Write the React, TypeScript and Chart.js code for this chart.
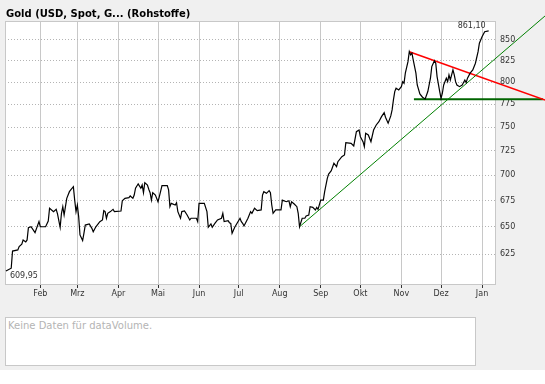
import React, { useEffect, useRef } from 'react';
import { Chart, registerables } from 'chart.js';

Chart.register(...registerables);

const TITLE = 'Gold (USD, Spot, G... (Rohstoffe)';
const NO_DATA_TEXT = 'Keine Daten für dataVolume.';

// x values: day number counted from 1 Jan 2007
const priceDays = [
  5, 9, 10, 14, 15, 17, 18, 20, 21, 22, 24, 27, 30, 31, 35, 37, 38, 41, 43, 44, 46, 47, 48, 49, 50, 51, 53, 54, 56, 57,
  58, 59, 60, 61, 63, 64, 65, 68, 70, 71, 73, 76, 78, 79, 80, 81, 82, 84, 86, 87, 92, 93, 95, 98, 99, 101, 102, 103, 104, 105,
  107, 108, 109, 110, 112, 113, 114, 115, 116, 118, 120, 121, 123, 127, 128, 129, 130, 133, 134, 135, 137, 138, 140, 142, 144, 145, 149, 150, 151, 155,
  157, 158, 160, 161, 163, 165, 168, 169, 170, 173, 174, 175, 176, 178, 180, 182, 183, 184, 185, 188, 190, 191, 193, 195, 198, 199, 200, 202, 204, 205,
  206, 207, 209, 213, 214, 217, 219, 220, 221, 223, 225, 226, 227, 229, 231, 232, 234, 235, 237, 239, 240, 241, 243, 245, 246, 248, 249, 251, 253, 255,
  256, 259, 261, 262, 266, 268, 270, 272, 273, 275, 276, 277, 279, 281, 283, 285, 287, 289, 291, 292, 294, 296, 297, 298, 299, 300, 302, 304, 305, 306,
  307, 309, 310, 311, 312, 313, 315, 316, 318, 320, 322, 324, 326, 327, 329, 330, 331, 333, 334, 335, 336, 338, 339, 340, 341, 343, 344, 345, 346, 348,
  350, 352, 353, 354, 356, 358, 360, 362, 363, 365, 367, 370,
];
const priceValues = [
  609.95, 612.4, 627.7, 628.7, 631.7, 633.9, 637.8, 636.0, 637.8, 649.1, 650.0, 644.5, 654.8, 650.0, 650.0, 655.4, 667.5, 664.3, 666.5, 662.1, 649.5, 662.7, 669.0, 661.1, 669.0, 677.1, 683.6, 685.3, 688.5, 675.4,
  664.3, 670.6, 659.5, 642.4, 637.2, 644.0, 651.6, 652.6, 648.5, 645.4, 650.0, 654.8, 656.4, 665.2, 664.3, 658.0, 662.7, 664.3, 666.5, 664.3, 664.9, 674.7, 677.1, 677.7, 679.4, 677.1, 680.3, 687.0, 689.2, 691.2,
  687.0, 690.2, 682.6, 692.5, 690.2, 686.0, 682.6, 675.4, 682.6, 680.3, 673.8, 678.7, 689.5, 689.5, 685.3, 669.0, 672.2, 670.6, 672.8, 664.3, 658.0, 664.3, 664.9, 661.1, 656.4, 658.0, 658.0, 654.8, 672.2, 672.2,
  664.3, 649.5, 652.6, 649.5, 653.2, 656.4, 658.0, 662.7, 654.8, 655.7, 653.8, 653.2, 644.0, 649.5, 653.8, 658.0, 654.8, 653.2, 650.7, 658.0, 664.3, 662.7, 667.5, 665.2, 665.9, 680.3, 683.6, 682.0, 684.6, 682.6,
  670.6, 662.7, 665.9, 665.9, 675.4, 673.8, 674.7, 669.0, 673.8, 671.6, 669.0, 662.7, 650.0, 658.0, 658.0, 660.2, 661.1, 669.0, 668.4, 665.9, 668.4, 666.5, 675.4, 675.4, 683.6, 696.8, 701.1, 704.5, 712.1, 708.6,
  713.7, 718.9, 720.6, 733.5, 732.8, 730.0, 745.1, 746.9, 739.8, 734.5, 729.2, 743.4, 741.6, 734.5, 746.9, 752.3, 755.9, 761.4, 765.8, 760.8, 754.2, 762.2, 768.8, 779.9, 789.3, 793.1, 791.2, 794.9, 800.6, 798.8,
  810.4, 823.9, 835.9, 832.0, 834.0, 825.9, 810.4, 796.8, 786.7, 782.9, 781.0, 789.3, 804.6, 818.1, 825.1, 822.1, 806.5, 789.3, 781.5, 787.4, 796.8, 804.6, 800.6, 808.4, 802.5, 814.2, 808.4, 800.6, 796.8, 794.9,
  796.8, 802.5, 799.4, 804.6, 810.4, 814.2, 822.1, 835.9, 846.0, 854.0, 860.1, 861.1,
];

const monthTickDays = [31, 59, 90, 120, 151, 181, 212, 243, 273, 304, 334, 365];
const monthTickLabels = ['Feb', 'Mrz', 'Apr', 'Mai', 'Jun', 'Jul', 'Aug', 'Sep', 'Okt', 'Nov', 'Dez', 'Jan'];
const yTickValues = [625, 650, 675, 700, 725, 750, 775, 800, 825, 850];

// trend lines (two points each)
const supportDays = [227, 412.6];
const supportValues = [650.0, 879.8];
const resistanceDays = [310, 412.6];
const resistanceValues = [835.9, 779.8];
const floorDays = [313.5, 411];
const floorValues = [780.6, 780.6];

const firstLabel = '609,95';
const lastLabel = '861,10';

const FONT = '"DejaVu Sans", Verdana, sans-serif';

const pts = (xs: number[], ys: number[]) => xs.map((x, i) => ({ x, y: ys[i] }));

export default function App() {
  const ref = useRef<HTMLCanvasElement | null>(null);

  useEffect(() => {
    document.body.style.margin = '0';
    const canvas = ref.current;
    if (!canvas) return;

    const framePlugin = {
      id: 'frame',
      beforeDraw(chart: any) {
        const { ctx, chartArea } = chart;
        const { left, top, right, bottom } = chartArea;
        ctx.save();
        ctx.fillStyle = '#ffffff';
        ctx.fillRect(left, top, right - left, bottom - top);
        ctx.fillStyle = '#000000';
        ctx.font = `bold 10px ${FONT}`;
        ctx.textBaseline = 'alphabetic';
        ctx.textAlign = 'left';
        ctx.fillText(TITLE, 6, 17);
        ctx.restore();
      },
      beforeDatasetsDraw(chart: any) {
        const { ctx, chartArea } = chart;
        const { left, top, right, bottom } = chartArea;
        ctx.save();
        ctx.strokeStyle = '#c8c8c8';
        ctx.lineWidth = 1;
        ctx.strokeRect(Math.round(left) + 0.5, Math.round(top) + 0.5, Math.round(right - left), Math.round(bottom - top));
        ctx.restore();
      },
      afterDatasetsDraw(chart: any) {
        const { ctx, scales } = chart;
        const xs = scales.x;
        const ys = scales.y;
        ctx.save();
        ctx.fillStyle = '#333333';
        ctx.font = `8px ${FONT}`;
        const lx = xs.getPixelForValue(priceDays[priceDays.length - 1]);
        const ly = ys.getPixelForValue(priceValues[priceValues.length - 1]);
        ctx.textAlign = 'right';
        ctx.textBaseline = 'bottom';
        ctx.fillText(lastLabel, lx - 3, ly - 1);
        const fx = xs.getPixelForValue(priceDays[0]);
        const fy = ys.getPixelForValue(priceValues[0]);
        ctx.textAlign = 'left';
        ctx.textBaseline = 'top';
        ctx.fillText(firstLabel, fx + 4, fy + 1);
        ctx.restore();
      },
    };

    const chart = new Chart(canvas, {
      type: 'line',
      data: {
        datasets: [
          {
            data: pts(priceDays, priceValues),
            borderColor: '#000000',
            borderWidth: 1.2,
            pointRadius: 0,
            tension: 0,
            order: 1,
          },
          {
            data: pts(supportDays, supportValues),
            borderColor: '#008000',
            borderWidth: 1,
            pointRadius: 0,
            clip: false as any,
            order: 2,
          },
          {
            data: pts(resistanceDays, resistanceValues),
            borderColor: '#ff0000',
            borderWidth: 1.6,
            pointRadius: 0,
            clip: false as any,
            order: 3,
          },
          {
            data: pts(floorDays, floorValues),
            borderColor: '#006400',
            borderWidth: 2,
            pointRadius: 0,
            clip: false as any,
            order: 4,
          },
        ],
      },
      options: {
        animation: false,
        responsive: false,
        maintainAspectRatio: false,
        events: [],
        layout: { padding: { top: 21, left: 5, right: 0, bottom: 0 } },
        plugins: {
          legend: { display: false },
          tooltip: { enabled: false },
          title: { display: false },
        },
        scales: {
          x: {
            type: 'linear',
            min: 4.3,
            max: 374.8,
            afterBuildTicks: (s: any) => {
              s.ticks = monthTickDays.map((v) => ({ value: v }));
            },
            afterFit: (s: any) => {
              s.height = 16;
            },
            ticks: {
              autoSkip: false,
              maxRotation: 0,
              padding: 1,
              color: '#333333',
              font: { family: FONT, size: 8 },
              callback: (v: any) => {
                const i = monthTickDays.indexOf(Number(v));
                return i >= 0 ? monthTickLabels[i] : '';
              },
            },
            grid: {
              color: '#c8c8c8',
              lineWidth: 1,
              drawTicks: true,
              tickLength: 4,
              tickColor: '#333333',
              tickWidth: 1,
            },
            border: { display: true, color: '#c8c8c8' },
          },
          y: {
            type: 'logarithmic',
            position: 'right',
            min: 598.7,
            max: 873.5,
            afterBuildTicks: (s: any) => {
              s.ticks = yTickValues.map((v) => ({ value: v }));
            },
            afterFit: (s: any) => {
              s.width = 50;
            },
            ticks: {
              autoSkip: false,
              padding: 5,
              color: '#333333',
              font: { family: FONT, size: 8 },
              callback: (v: any) => String(v),
            },
            grid: {
              color: '#b4b4b4',
              lineWidth: 1,
              drawTicks: false,
            },
            border: { display: true, color: '#c8c8c8', dash: [1, 2] },
          },
        },
      },
      plugins: [framePlugin],
    } as any);

    return () => chart.destroy();
  }, []);

  return (
    <div style={{ position: 'absolute', left: 0, top: 0, width: 545, height: 384, background: '#ffffff' }}>
      <div style={{ position: 'absolute', left: 0, top: 0, width: 545, height: 370, background: '#f0f0f0' }} />
      <canvas
        ref={ref}
        width={545}
        height={300}
        style={{ position: 'absolute', left: 0, top: 0, width: 545, height: 300 }}
      />
      <div
        style={{
          position: 'absolute',
          left: 5,
          top: 317,
          width: 471,
          height: 49,
          boxSizing: 'border-box',
          border: '1px solid #c8c8c8',
          background: '#ffffff',
          color: '#b4b4b4',
          fontFamily: FONT,
          fontSize: 10,
          lineHeight: '12px',
          padding: '2px 2px',
          whiteSpace: 'nowrap',
        }}
      >
        {NO_DATA_TEXT}
      </div>
    </div>
  );
}
